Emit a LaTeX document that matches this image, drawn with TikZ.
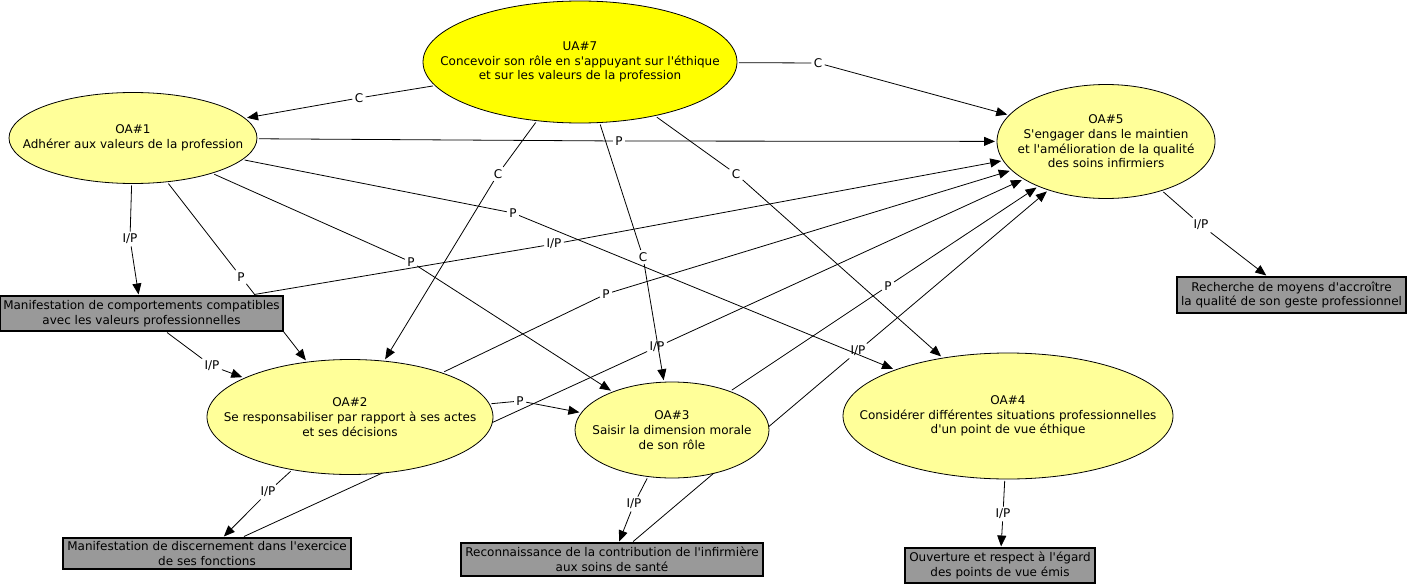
\documentclass[tikz,border=0pt]{standalone}
\usepackage{fontspec}
\setmainfont{DejaVu Sans}[Ligatures=TeXOff]
\usetikzlibrary{shapes.geometric,arrows.meta,backgrounds}
\definecolor{oafill}{HTML}{FFFF99}
\definecolor{uafill}{HTML}{FFFF00}
\definecolor{boxfill}{HTML}{999999}
\tikzset{
  concept/.style={ellipse, draw=black, line width=0.8pt, fill=oafill, inner sep=0pt, outer sep=2pt},
  uaconcept/.style={concept, fill=uafill},
  ctext/.style={align=center, inner sep=0pt},
  resbox/.style={rectangle, draw=black, line width=1.1pt, fill=boxfill, inner sep=0pt, outer sep=1.5pt, align=center},
  lbl/.style={inner sep=2.5pt, outer sep=0pt},
  link/.style={line width=0.8pt, draw=black},
  linkarrow/.style={link, -{Triangle[length=11pt,width=9pt]}}
}
\begin{document}
\begin{tikzpicture}[x=1pt, y=-1pt, font=\fontsize{12pt}{14.7pt}\selectfont]
\useasboundingbox (0,0) rectangle (1408,586);
% concepts (ellipse shapes, then their texts)
\node[uaconcept, minimum width=314pt, minimum height=122pt] (ua7) at (580,62) {};
\node[ctext] (ua7t) at (ua7) {UA\#7\\Concevoir son rôle en s'appuyant sur l'éthique\\et sur les valeurs de la profession};
\node[concept, minimum width=248pt, minimum height=91pt] (oa1) at (133,138) {};
\node[ctext] (oa1t) at (oa1) {OA\#1\\Adhérer aux valeurs de la profession};
\node[concept, minimum width=218pt, minimum height=114pt] (oa5) at (1106,141.5) {};
\node[ctext] (oa5t) at (oa5) {OA\#5\\S'engager dans le maintien\\et l'amélioration de la qualité\\des soins infirmiers};
\node[concept, minimum width=286pt, minimum height=115pt] (oa2) at (350,417) {};
\node[ctext] (oa2t) at (oa2) {OA\#2\\Se responsabiliser par rapport à ses actes\\et ses décisions};
\node[concept, minimum width=194pt, minimum height=96pt] (oa3) at (672,430) {};
\node[ctext] (oa3t) at (oa3) {OA\#3\\Saisir la dimension morale\\de son rôle};
\node[concept, minimum width=330pt, minimum height=126pt] (oa4) at (1008,416) {};
\node[ctext] (oa4t) at (oa4) {OA\#4\\Considérer différentes situations professionnelles\\d'un point de vue éthique};
% result boxes
\node[resbox, minimum width=283pt, minimum height=35pt] (b1) at (141.5,313.5) {Manifestation de comportements compatibles\\avec les valeurs professionnelles};
\node[resbox, minimum width=288pt, minimum height=31pt] (b2) at (207,553.5) {Manifestation de discernement dans l'exercice\\de ses fonctions};
\node[resbox, minimum width=302pt, minimum height=33pt] (b3) at (612,559.5) {Reconnaissance de la contribution de l'infirmière\\aux soins de santé};
\node[resbox, minimum width=190pt, minimum height=35pt] (b4) at (1000,565.5) {Ouverture et respect à l'égard\\des points de vue émis};
\node[resbox, minimum width=229pt, minimum height=36pt] (b5) at (1291.5,295) {Recherche de moyens d'accroître\\la qualité de son geste professionnel};
% link labels
\node[lbl] (l1) at (359,98) {C};
\node[lbl] (l2) at (818,63) {C};
\node[lbl] (l3) at (498,174) {C};
\node[lbl] (l4) at (643,257) {C};
\node[lbl] (l5) at (736,174) {C};
\node[lbl] (l6) at (619,141) {P};
\node[lbl] (l7) at (130,239) {I/P};
\node[lbl] (l8) at (241,277) {P};
\node[lbl] (l9) at (411,262) {P};
\node[lbl] (l10) at (513,213) {P};
\node[lbl] (l11) at (554,244) {I/P};
\node[lbl] (l12) at (212,366) {I/P};
\node[lbl] (l13) at (606,294) {P};
\node[lbl] (l14) at (657,347) {I/P};
\node[lbl] (l15) at (520,401) {P};
\node[lbl] (l16) at (268,492) {I/P};
\node[lbl] (l17) at (888,286) {P};
\node[lbl] (l18) at (858,351) {I/P};
\node[lbl] (l19) at (634,504) {I/P};
\node[lbl] (l20) at (1003,514) {I/P};
\node[lbl] (l21) at (1201,225) {I/P};
% connectors
\begin{scope}[on background layer]
\draw[link] (ua7) -- (l1); \draw[linkarrow] (l1) -- (oa1);
\draw[link] (ua7) -- (l2); \draw[linkarrow] (l2) -- (oa5);
\draw[link] (ua7) -- (l3); \draw[linkarrow] (l3) -- (oa2);
\draw[link] (ua7) -- (l4); \draw[linkarrow] (l4) -- (oa3);
\draw[link] (ua7) -- (l5); \draw[linkarrow] (l5) -- (oa4);
\draw[link] (oa1) -- (l6); \draw[linkarrow] (l6) -- (oa5);
\draw[link] (oa1) -- (l7); \draw[linkarrow] (l7) -- (b1);
\draw[link] (oa1) -- (l8); \draw[linkarrow] (l8) -- (oa2);
\draw[link] (oa1) -- (l9); \draw[linkarrow] (l9) -- (oa3);
\draw[link] (oa1) -- (l10); \draw[linkarrow] (l10) -- (oa4);
\draw[link] (b1) -- (l11); \draw[linkarrow] (l11) -- (oa5);
\draw[link] (b1) -- (l12); \draw[linkarrow] (l12) -- (oa2);
\draw[link] (oa2) -- (l13); \draw[linkarrow] (l13) -- (oa5);
\draw[link] (b2) -- (l14); \draw[linkarrow] (l14) -- (oa5);
\draw[link] (oa2) -- (l15); \draw[linkarrow] (l15) -- (oa3);
\draw[link] (oa2) -- (l16); \draw[linkarrow] (l16) -- (b2);
\draw[link] (oa3) -- (l17); \draw[linkarrow] (l17) -- (oa5);
\draw[link] (b3) -- (l18); \draw[linkarrow] (l18) -- (oa5);
\draw[link] (oa3) -- (l19); \draw[linkarrow] (l19) -- (b3);
\draw[link] (oa4) -- (l20); \draw[linkarrow] (l20) -- (b4);
\draw[link] (oa5) -- (l21); \draw[linkarrow] (l21) -- (b5);
\end{scope}
\end{tikzpicture}
\end{document}
